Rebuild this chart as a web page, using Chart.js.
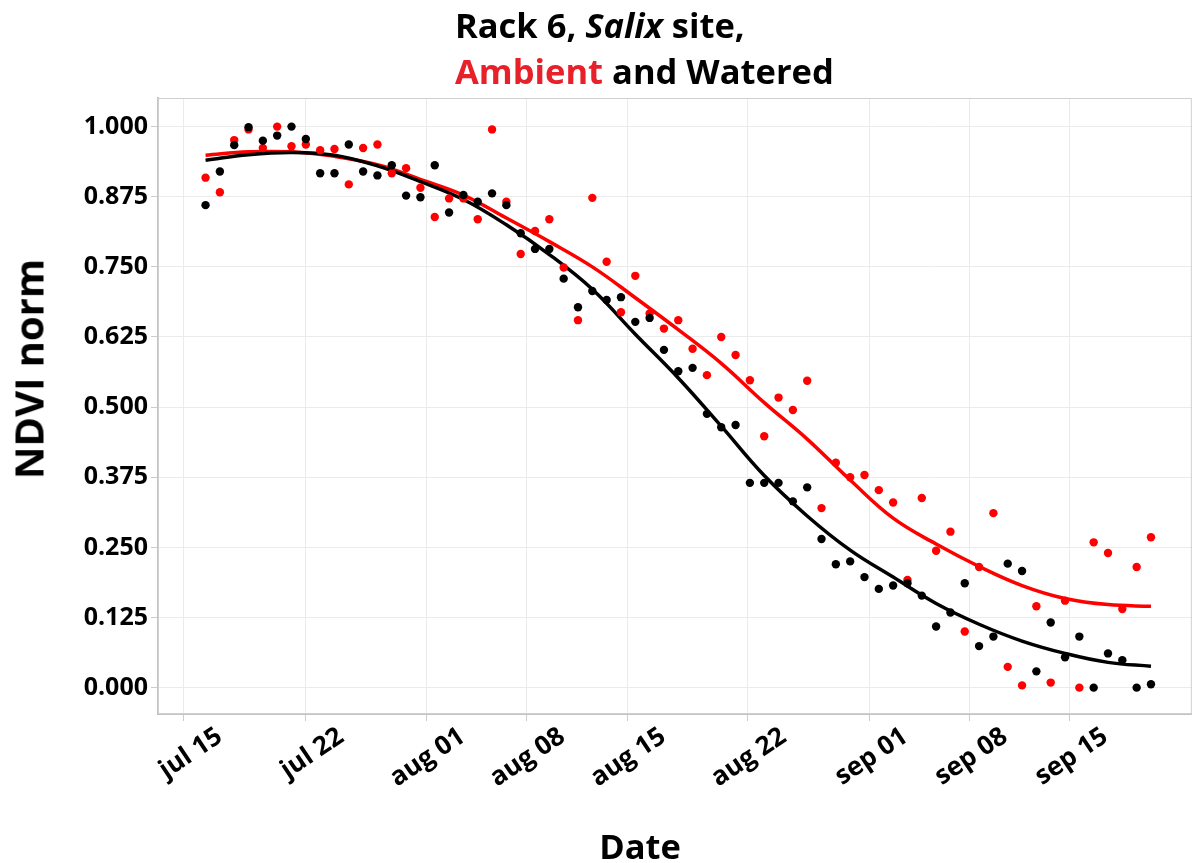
<!DOCTYPE html>
<html>
<head>
<meta charset="utf-8">
<script src="https://cdn.jsdelivr.net/npm/chart.js@4.4.1/dist/chart.umd.min.js"></script>
<style>
  html, body { margin: 0; padding: 0; background: #ffffff; }
  #wrap { position: relative; width: 1196px; height: 863px; overflow: hidden; }
  #c { position: absolute; left: 0; top: 0; }
  .txt { position: absolute; font-family: "Open Sans", "Noto Sans", sans-serif; font-weight: 700; color: #000; white-space: nowrap; }
  #t1 { left: 455px; top: 4px; font-size: 34.5px; line-height: 42px; }
  #t2 { left: 455px; top: 50px; font-size: 34.5px; line-height: 42px; }
  #ytitle { left: 28px; top: 369px; font-size: 40px; transform: translate(-50%, -50%) rotate(-90deg); }
  #xtitle { left: 640px; top: 845px; font-size: 34.5px; transform: translate(-50%, -50%); }
</style>
</head>
<body>
<div id="wrap">
  <canvas id="c" width="1196" height="863"></canvas>
  <div class="txt" id="t1">Rack 6, <i>Salix</i> site,</div>
  <div class="txt" id="t2"><span style="color:#e8202a">Ambient</span> and Watered</div>
  <div class="txt" id="ytitle">NDVI norm</div>
  <div class="txt" id="xtitle">Date</div>
</div>
<script>
// ---- data (day index from first observation) ----
const days = [0,1,2,3,4,5,6,7,8,9,10,11,12,13,14,15,16,17,18,19,20,21,22,23,24,25,26,27,28,29,30,31,32,33,34,35,36,37,38,39,40,41,42,43,44,45,46,47,48,49,50,51,52,53,54,55,56,57,58,59,60,61,62,63,64,65,66];

const wateredNDVI = [0.860,0.920,0.967,0.999,0.975,0.984,1.000,0.978,0.917,0.917,0.968,0.920,0.913,0.931,0.877,0.874,0.931,0.847,0.878,0.866,0.881,0.860,0.810,0.782,0.782,0.729,0.678,0.707,0.691,0.696,0.652,0.659,0.602,0.564,0.570,0.488,0.464,0.468,0.365,0.365,0.365,0.332,0.357,0.265,0.220,0.225,0.197,0.176,0.182,0.186,0.164,0.109,0.134,0.186,0.074,0.091,0.221,0.208,0.029,0.116,0.054,0.091,0.000,0.061,0.049,0.000,0.006];

const ambientNDVI = [0.909,0.883,0.976,0.995,0.962,1.000,0.965,0.968,0.958,0.960,0.897,0.962,0.968,0.917,0.926,0.891,0.839,0.872,0.872,0.835,0.995,0.866,0.773,0.814,0.835,0.749,0.655,0.873,0.759,0.669,0.734,0.667,0.640,0.655,0.604,0.557,0.625,0.593,0.548,0.448,0.517,0.495,0.547,0.320,0.401,0.375,0.379,0.352,0.330,0.192,0.338,0.244,0.278,0.100,0.215,0.311,0.037,0.004,0.145,0.009,0.155,0.000,0.259,0.240,0.140,0.215,0.268];

// smoothed fits
const fitDays = [0,3,6,9,12,15,18,21,24,27,30,33,36,39,42,45,48,51,54,57,60,63,66];
const wateredFit = [0.940,0.950,0.954,0.949,0.930,0.902,0.870,0.825,0.772,0.710,0.630,0.552,0.466,0.378,0.306,0.245,0.197,0.150,0.113,0.083,0.061,0.045,0.038];
const ambientFit = [0.949,0.955,0.955,0.947,0.932,0.906,0.878,0.837,0.795,0.750,0.695,0.638,0.578,0.508,0.443,0.370,0.302,0.256,0.216,0.182,0.159,0.148,0.145];

// axis ticks
const xTickDays = [-1.52, 6.95, 15.42, 22.4, 29.43, 37.85, 46.33, 53.3, 60.29];
const xTickLabels = ["jul 15","jul 22","aug 01","aug 08","aug 15","aug 22","sep 01","sep 08","sep 15"];
const yTickValues = [0, 0.125, 0.25, 0.375, 0.5, 0.625, 0.75, 0.875, 1.0];

function pts(xs, ys) { return xs.map((x, i) => ({ x: x, y: ys[i] })); }

const borderPlugin = {
  id: 'panelBorder',
  afterDraw(chart) {
    const a = chart.chartArea, ctx = chart.ctx;
    ctx.save();
    ctx.strokeStyle = '#cfcfcf';
    ctx.lineWidth = 1;
    ctx.strokeRect(a.left + 0.5, a.top + 0.5, a.right - a.left - 1, a.bottom - a.top - 1);
    ctx.restore();
  }
};

const yTickFont = { family: '"Open Sans", "Noto Sans", sans-serif', weight: 'bold', size: 25 };
const xTickFont = { family: '"Open Sans", "Noto Sans", sans-serif', weight: 'bold', size: 26 };

new Chart(document.getElementById('c'), {
  type: 'scatter',
  data: {
    datasets: [
      { label: 'Watered', data: pts(days, wateredNDVI), backgroundColor: '#000000', borderColor: '#000000', pointRadius: 4.2, pointBorderWidth: 0, showLine: false },
      { label: 'Ambient', data: pts(days, ambientNDVI), backgroundColor: '#ff0000', borderColor: '#ff0000', pointRadius: 4.2, pointBorderWidth: 0, showLine: false },
      { label: 'Watered fit', data: pts(fitDays, wateredFit), borderColor: '#000000', borderWidth: 3.5, pointRadius: 0, showLine: true, tension: 0.4 },
      { label: 'Ambient fit', data: pts(fitDays, ambientFit), borderColor: '#ff0000', borderWidth: 3.5, pointRadius: 0, showLine: true, tension: 0.4 }
    ]
  },
  options: {
    responsive: false,
    animation: false,
    events: [],
    layout: { padding: { top: 98, right: 0, left: 0, bottom: 0 } },
    plugins: { legend: { display: false }, tooltip: { enabled: false }, title: { display: false } },
    scales: {
      x: {
        type: 'linear',
        min: -3.32,
        max: 68.85,
        afterBuildTicks(scale) { scale.ticks = xTickDays.map(v => ({ value: v })); },
        afterFit(scale) { scale.height = 149; scale.paddingLeft = 0; scale.paddingRight = 0; },
        ticks: {
          autoSkip: false,
          maxRotation: 34,
          minRotation: 34,
          color: '#000',
          font: xTickFont,
          padding: 0,
          labelOffset: 36,
          callback(value, index) { return xTickLabels[index]; }
        },
        grid: { color: '#ebebeb', lineWidth: 1, tickLength: 7, tickColor: '#cccccc', drawTicks: true },
        border: { color: '#c4c4c4', width: 2 }
      },
      y: {
        type: 'linear',
        min: -0.047,
        max: 1.051,
        afterBuildTicks(scale) { scale.ticks = yTickValues.map(v => ({ value: v })); },
        afterFit(scale) { scale.width = 158; scale.paddingTop = 0; scale.paddingBottom = 0; },
        ticks: {
          autoSkip: false,
          color: '#000',
          font: yTickFont,
          padding: 3,
          callback(value) { return Number(value).toFixed(3); }
        },
        grid: { color: '#ebebeb', lineWidth: 1, tickLength: 7, tickColor: '#cccccc', drawTicks: true },
        border: { color: '#c4c4c4', width: 2 }
      }
    }
  },
  plugins: [borderPlugin]
});
</script>
</body>
</html>
